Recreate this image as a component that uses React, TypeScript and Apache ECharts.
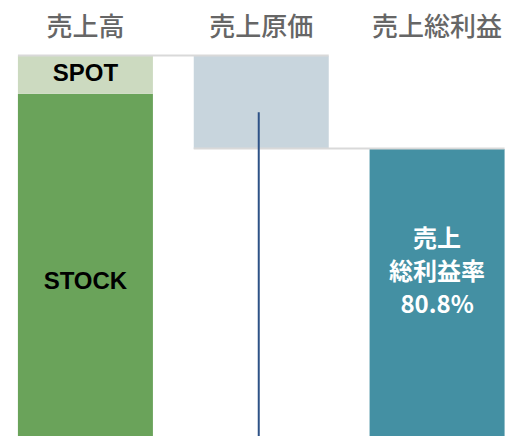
import React, { useEffect, useRef } from 'react';
import * as echarts from 'echarts';

const categories = ['売上高', '売上原価', '売上総利益'];
const stockValues: (number | string)[] = [92.2, '-', '-'];
const spotValues: (number | string)[] = [7.8, '-', '-'];
const costValues: (number | string)[] = ['-', 19.2, '-'];
const grossValues: (number | string)[] = ['-', '-', 80.8];
const grossMarginText = '80.8%';
// connectors: [fromCategoryIndex, toCategoryIndex, value]
const connectorData = [
  [0, 1, 100],
  [1, 2, 80.8],
];
// vertical marker on cost bar: [categoryIndex, topValue]
const markerData = [[1, 88.4]];
const axisMin = 21.5;
const axisMax = 100;

const BAR_W = 135;
const JP = 'Noto Sans CJK JP';

export default function App() {
  const ref = useRef<HTMLDivElement>(null);
  useEffect(() => {
    if (!ref.current) return;
    const chart = echarts.init(ref.current, undefined, { renderer: 'svg' });
    const baseValues = costValues.map((v) => (v === '-' ? '-' : (grossValues[2] as number)));
    chart.setOption({
      animation: false,
      grid: { left: 0.5, right: 0, top: 56, bottom: 0 },
      xAxis: {
        type: 'category',
        position: 'top',
        data: categories,
        axisLine: { show: false },
        axisTick: { show: false },
        axisLabel: { color: '#666666', fontSize: 26, fontWeight: 500, fontFamily: JP, margin: 19 },
      },
      yAxis: {
        type: 'value',
        min: axisMin,
        max: axisMax,
        show: false,
        splitLine: { show: false },
      },
      series: [
        {
          type: 'bar',
          name: 'STOCK',
          stack: 'w',
          barWidth: BAR_W,
          data: stockValues,
          itemStyle: { color: '#6aa35a' },
          label: {
            show: true,
            formatter: 'STOCK',
            position: ['50%', 186.5],
            align: 'center',
            verticalAlign: 'middle',
            color: '#000',
            fontSize: 24,
            fontWeight: 'bold',
            fontFamily: 'Liberation Sans',
          },
        },
        {
          type: 'bar',
          name: 'SPOT',
          stack: 'w',
          barWidth: BAR_W,
          data: spotValues,
          itemStyle: { color: '#ccdac0' },
          label: {
            show: true,
            formatter: 'SPOT',
            position: ['50%', 16],
            align: 'center',
            verticalAlign: 'middle',
            color: '#000',
            fontSize: 24,
            fontWeight: 'bold',
            fontFamily: 'Liberation Sans',
          },
        },
        {
          type: 'bar',
          name: 'base',
          stack: 'w',
          barWidth: BAR_W,
          silent: true,
          data: baseValues,
          itemStyle: { color: 'transparent' },
        },
        {
          type: 'bar',
          name: '売上原価',
          stack: 'w',
          barWidth: BAR_W,
          data: costValues,
          itemStyle: { color: '#c8d5dd' },
        },
        {
          type: 'bar',
          name: '売上総利益',
          stack: 'w',
          barWidth: BAR_W,
          data: grossValues,
          itemStyle: { color: '#4490a3' },
          label: {
            show: true,
            formatter: '売上\n総利益率\n' + grossMarginText,
            position: ['50%', 120.5],
            align: 'center',
            verticalAlign: 'middle',
            color: '#ffffff',
            fontSize: 24,
            lineHeight: 33,
            fontWeight: 'bold',
            fontFamily: JP,
          },
        },
        {
          type: 'custom',
          name: 'connector',
          z: 5,
          silent: true,
          data: connectorData,
          renderItem: (params: any, api: any) => {
            const from = api.coord([api.value(0), api.value(2)]);
            const to = api.coord([api.value(1), api.value(2)]);
            const y = from[1] - 0.5;
            return {
              type: 'line',
              shape: { x1: from[0] - BAR_W / 2, y1: y, x2: to[0] + BAR_W / 2, y2: y },
              style: { stroke: '#d9d9d9', lineWidth: 2 },
            };
          },
        },
        {
          type: 'custom',
          name: 'marker',
          z: 6,
          silent: true,
          data: markerData,
          renderItem: (params: any, api: any) => {
            const top = api.coord([api.value(0), api.value(1)]);
            const bottom = api.coord([api.value(0), axisMin]);
            const x = top[0] - 2.5;
            return {
              type: 'line',
              shape: { x1: x, y1: top[1], x2: x, y2: bottom[1] },
              style: { stroke: '#2e5286', lineWidth: 2 },
            };
          },
        },
      ],
    });
    return () => chart.dispose();
  }, []);
  return (
    <div style={{ position: 'fixed', left: 0, top: 0, width: 508, height: 436, overflow: 'hidden', background: '#ffffff' }}>
      <div ref={ref} style={{ position: 'absolute', left: -3, top: 0, width: 528, height: 436 }} />
    </div>
  );
}
